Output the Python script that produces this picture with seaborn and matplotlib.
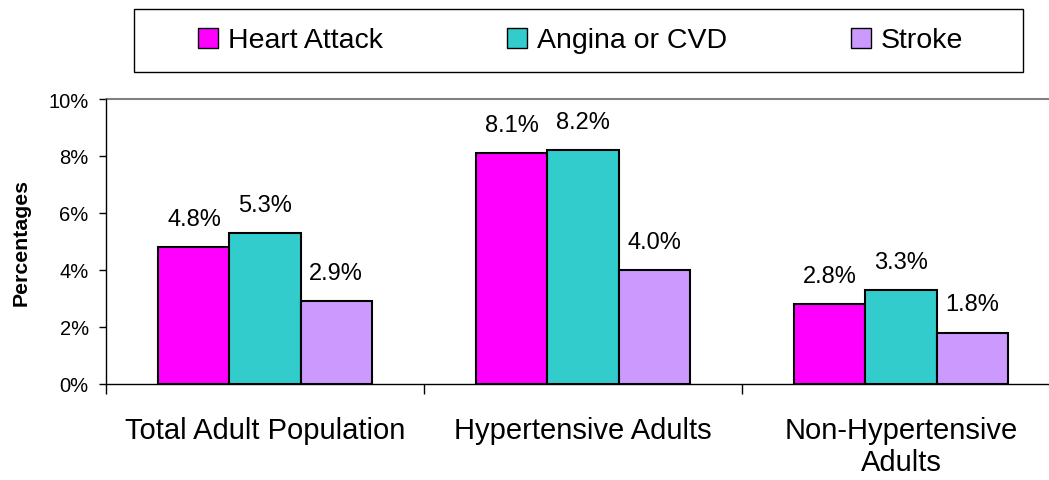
import matplotlib
matplotlib.use("Agg")
import matplotlib.pyplot as plt
from matplotlib.patches import Rectangle
from matplotlib.ticker import FuncFormatter, FixedLocator
import pandas as pd
import seaborn as sns

groups = ["Total Adult Population", "Hypertensive Adults", "Non-Hypertensive\nAdults"]
conditions = ["Heart Attack", "Angina or CVD", "Stroke"]
heart_attack = [4.8, 8.1, 2.8]
angina_cvd = [5.3, 8.2, 3.3]
stroke = [2.9, 4.0, 1.8]
palette = ["#FF00FF", "#33CCCC", "#CC99FF"]

df = pd.DataFrame({
    "group": groups * 3,
    "condition": [c for c in conditions for _ in groups],
    "value": heart_attack + angina_cvd + stroke,
})

sns.set_theme(style="white")
plt.rcParams["font.family"] = ["Liberation Sans", "DejaVu Sans"]
plt.rcParams.update({
    "text.color": "black",
    "axes.labelcolor": "black",
    "xtick.color": "black",
    "ytick.color": "black",
    "xtick.labelcolor": "black",
    "ytick.labelcolor": "black",
})

W, H = 1049, 481
fig = plt.figure(figsize=(W / 100, H / 100), dpi=100)
ax = fig.add_axes([106 / W, 96 / H, 954 / W, 285 / H])

sns.barplot(data=df, x="group", y="value", hue="condition", order=groups,
            hue_order=conditions, palette=palette, width=0.67, gap=0,
            edgecolor="black", linewidth=1.5, saturation=1, ax=ax)

for cont in ax.containers:
    ax.bar_label(cont, labels=[f"{v:.1f}%" for v in cont.datavalues],
                 padding=12.5, fontsize=17, color="black")

ax.set_ylim(0, 10)
ax.set_xlim(-0.5, 2.5)
ax.set_yticks([0, 2, 4, 6, 8, 10])
ax.yaxis.set_major_formatter(FuncFormatter(lambda v, p: f"{v:.0f}%"))
ax.tick_params(axis="y", which="major", left=True, length=5, width=1,
               color="black", labelcolor="black", labelsize=14.5, pad=7.5)
ax.tick_params(axis="x", which="major", bottom=False, labelcolor="black",
               labelsize=21, pad=17)
ax.xaxis.set_minor_locator(FixedLocator([-0.5, 0.5, 1.5, 2.5]))
ax.tick_params(axis="x", which="minor", bottom=True, length=7, width=1,
               color="black")

ax.set_xlabel("")
ax.set_ylabel("Percentages", fontsize=15.3, fontweight="bold", labelpad=13,
              color="black")

for side in ["top", "right"]:
    ax.spines[side].set_visible(False)
for side in ["left", "bottom"]:
    ax.spines[side].set_color("black")
    ax.spines[side].set_linewidth(1)
ax.axhline(10, color="#808080", linewidth=1.5, clip_on=False)

# legend entries spread evenly inside a separately drawn frame
handles, labels = ax.get_legend_handles_labels()
ax.get_legend().remove()
leg = fig.legend(handles, labels, loc="center",
                 bbox_to_anchor=(198 / W, (H - 73) / H, (963 - 198) / W, 63 / H),
                 mode="expand", ncol=3, fontsize=20.5, frameon=False,
                 handlelength=0.7, handleheight=0.7, handletextpad=0.35,
                 borderpad=0, borderaxespad=0, labelcolor="black")
for h in leg.legend_handles:
    h.set_edgecolor("black")
    h.set_linewidth(1)

fig.patches.append(Rectangle((134 / W, (H - 73) / H), (1023 - 134) / W, 63 / H,
                             transform=fig.transFigure, fill=False,
                             edgecolor="black", linewidth=1))

fig.savefig("out.png", dpi=100)
